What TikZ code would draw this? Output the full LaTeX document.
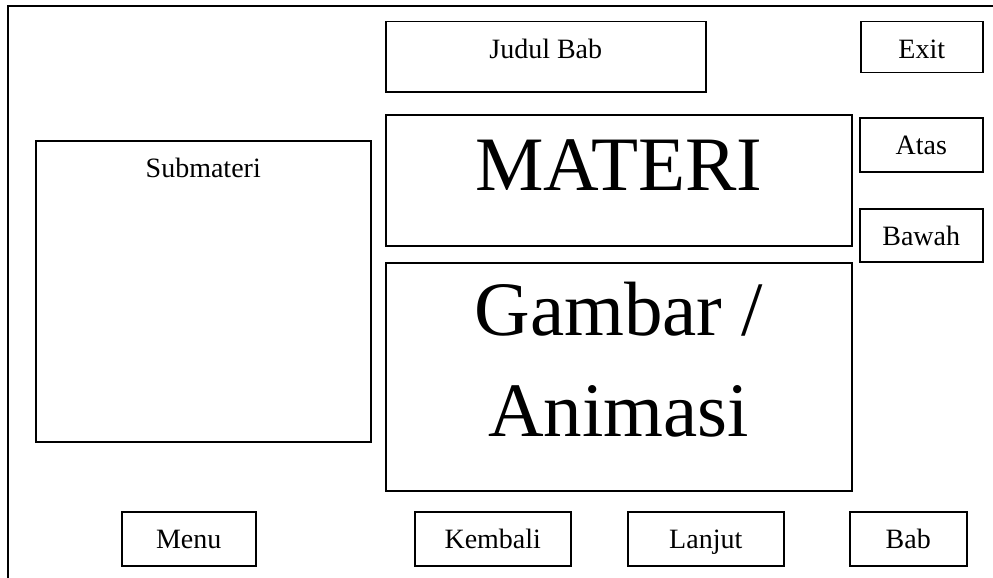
\documentclass[tikz,border=0pt]{standalone}
\usepackage{fontspec}
\setmainfont{Liberation Serif}
\tikzset{
  kotak/.style={draw, line width=1.5pt, inner sep=0pt, anchor=north west, align=center,
    font=\fontsize{28}{34}\selectfont},
  besar/.style={kotak, font=\fontsize{77}{101}\selectfont}
}
\begin{document}
\begin{tikzpicture}[x=1pt, y=-1pt]
\useasboundingbox (0,0) rectangle (993,578);
\clip (0,0) rectangle (993,578);
% layar
\draw[line width=1.5pt] (8,600) -- (8,6) -- (1010,6);
% tombol dan kotak kecil: nama/x/y/lebar/depth/teks
\foreach \n/\x/\y/\w/\d/\t in {judul/385/21/320/33/Judul Bab, exit/860/21/122/14/Exit,
    atas/859/117/123/17/Atas, bawah/859/208/123/16/Bawah,
    submateri/35/140/335/264/Submateri, menu/121/511/134/17/Menu,
    kembali/414/511/156/17/Kembali, lanjut/627/511/156/17/Lanjut, bab/849/511/117/17/Bab}
    \node[kotak, minimum width=\w pt, text height=37pt, text depth=\d pt] (\n) at (\x,\y) {\t};
% kotak isi
\node[besar, minimum width=466pt, text height=76pt, text depth=55pt] (materi) at (385,114) {MATERI};
\node[besar, minimum width=466pt, text height=174pt, text depth=54pt] (gambar) at (385,262) {Gambar /\\Animasi};
\end{tikzpicture}
\end{document}
